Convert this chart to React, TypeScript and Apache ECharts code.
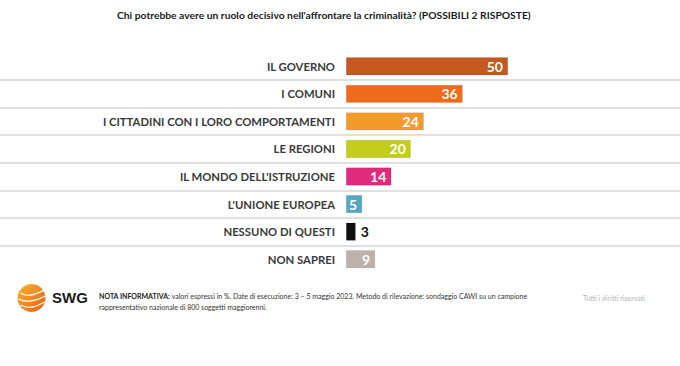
import React, { useEffect, useRef } from "react";
import * as echarts from "echarts";

const categories = [
  "IL GOVERNO",
  "I COMUNI",
  "I CITTADINI CON I LORO COMPORTAMENTI",
  "LE REGIONI",
  "IL MONDO DELL'ISTRUZIONE",
  "L'UNIONE EUROPEA",
  "NESSUNO DI QUESTI",
  "NON SAPREI",
];
const values = [50, 36, 24, 20, 14, 5, 3, 9];
const colors = ["#C4581F", "#EF6B1C", "#F39A2C", "#C3CD1E", "#E02A7C", "#57A7C6", "#111111", "#BDB2AA"];
const outsideLabel = [false, false, false, false, false, false, true, false];

const title = "Chi potrebbe avere un ruolo decisivo nell'affrontare la criminalità? (POSSIBILI 2 RISPOSTE)";
const noteBold = "NOTA INFORMATIVA:";
const noteLine1 = " valori espressi in %. Date di esecuzione: 3 – 5 maggio 2023. Metodo di rilevazione: sondaggio CAWI su un campione";
const noteLine2 = "rappresentativo nazionale di 800 soggetti maggiorenni.";
const rights = "Tutti i diritti riservati";

const FONT = "Lato, 'Open Sans', sans-serif";

export default function App() {
  const ref = useRef<HTMLDivElement>(null);
  useEffect(() => {
    if (!ref.current) return;
    const chart = echarts.init(ref.current, null, { renderer: "svg" });
    const gridTop = 52.5;
    const gridHeight = 220.5;
    chart.setOption({
      animation: false,
      backgroundColor: "#ffffff",
      grid: [
        { left: 346, right: 10, top: gridTop, height: gridHeight },
        { left: 0, right: 0, top: gridTop, height: gridHeight },
      ],
      xAxis: [
        { type: "value", gridIndex: 0, min: 0, max: 100, show: false },
        { type: "value", gridIndex: 1, min: 0, max: 1, show: false },
      ],
      yAxis: [
        {
          type: "category",
          gridIndex: 0,
          inverse: true,
          data: categories,
          axisLine: { show: false },
          axisTick: { show: false },
          splitLine: { show: false },
          axisLabel: {
            margin: 11,
            color: "#3a3a3a",
            fontFamily: FONT,
            fontWeight: "bold",
            fontSize: 11.3,
          },
        },
        {
          type: "value",
          gridIndex: 1,
          min: 0,
          max: 8,
          interval: 1,
          axisLine: { show: false },
          axisTick: { show: false },
          axisLabel: { show: false },
          splitLine: {
            show: true,
            showMinLine: false,
            showMaxLine: false,
            lineStyle: { color: "#d6d6d6", width: 1.5 },
          },
        },
      ],
      series: [
        {
          type: "bar",
          xAxisIndex: 0,
          yAxisIndex: 0,
          barWidth: 18,
          data: values.map((v, i) => ({
            value: v,
            itemStyle: { color: colors[i], borderColor: "rgba(0,0,0,0.12)", borderWidth: 0.6 },
            label: outsideLabel[i]
              ? { position: "right", color: "#111", distance: 5 }
              : { position: "insideRight", color: "#ffffff", distance: 5 },
          })),
          label: {
            show: true,
            fontFamily: FONT,
            fontWeight: "bold",
            fontSize: 14,
          },
        },
        {
          type: "scatter",
          xAxisIndex: 1,
          yAxisIndex: 1,
          data: [],
        },
      ],
      graphic: [
        {
          type: "text",
          left: 117,
          top: 10,
          style: {
            text: title,
            fill: "#1a1a1a",
            font: `bold 10.3px ${FONT}`,
          },
        },
        {
          type: "group",
          left: 16,
          top: 284,
          children: [
            {
              type: "circle",
              shape: { cx: 14, cy: 14, r: 14 },
              style: {
                fill: new echarts.graphic.LinearGradient(0, 0, 1, 1, [
                  { offset: 0, color: "#F9B233" },
                  { offset: 1, color: "#E65F12" },
                ]),
              },
            },
            {
              type: "bezierCurve",
              shape: { x1: 3, y1: 9, cpx1: 10, cpy1: 14, cpx2: 18, cpy2: 10, x2: 27, y2: 6 },
              style: { stroke: "#fff", lineWidth: 1.3, fill: null },
            },
            {
              type: "bezierCurve",
              shape: { x1: 1, y1: 15, cpx1: 10, cpy1: 20, cpx2: 20, cpy2: 16, x2: 28, y2: 12 },
              style: { stroke: "#fff", lineWidth: 1.3, fill: null },
            },
            {
              type: "bezierCurve",
              shape: { x1: 3, y1: 21, cpx1: 12, cpy1: 26, cpx2: 20, cpy2: 22, x2: 27, y2: 18 },
              style: { stroke: "#fff", lineWidth: 1.3, fill: null },
            },
          ],
        },
        {
          type: "text",
          left: 52,
          top: 290,
          style: { text: "SWG", fill: "#1a1a1a", font: `bold 15px 'Liberation Sans', Arial, sans-serif` },
        },
        {
          type: "text",
          left: 99,
          top: 292,
          style: {
            text: `{b|${noteBold}}{r|${noteLine1}}\n{r|${noteLine2}}`,
            rich: {
              b: { font: `bold 7px ${FONT}`, fill: "#222", lineHeight: 11 },
              r: { font: `7px ${FONT}`, fill: "#333", lineHeight: 11 },
            },
          },
        },
        {
          type: "text",
          left: 583,
          top: 294,
          style: { text: rights, fill: "#b5b5b5", font: `7px ${FONT}` },
        },
      ],
    });
    return () => chart.dispose();
  }, []);
  return <div ref={ref} style={{ width: 680, height: 366, position: "absolute", left: 0, top: 0 }} />;
}
